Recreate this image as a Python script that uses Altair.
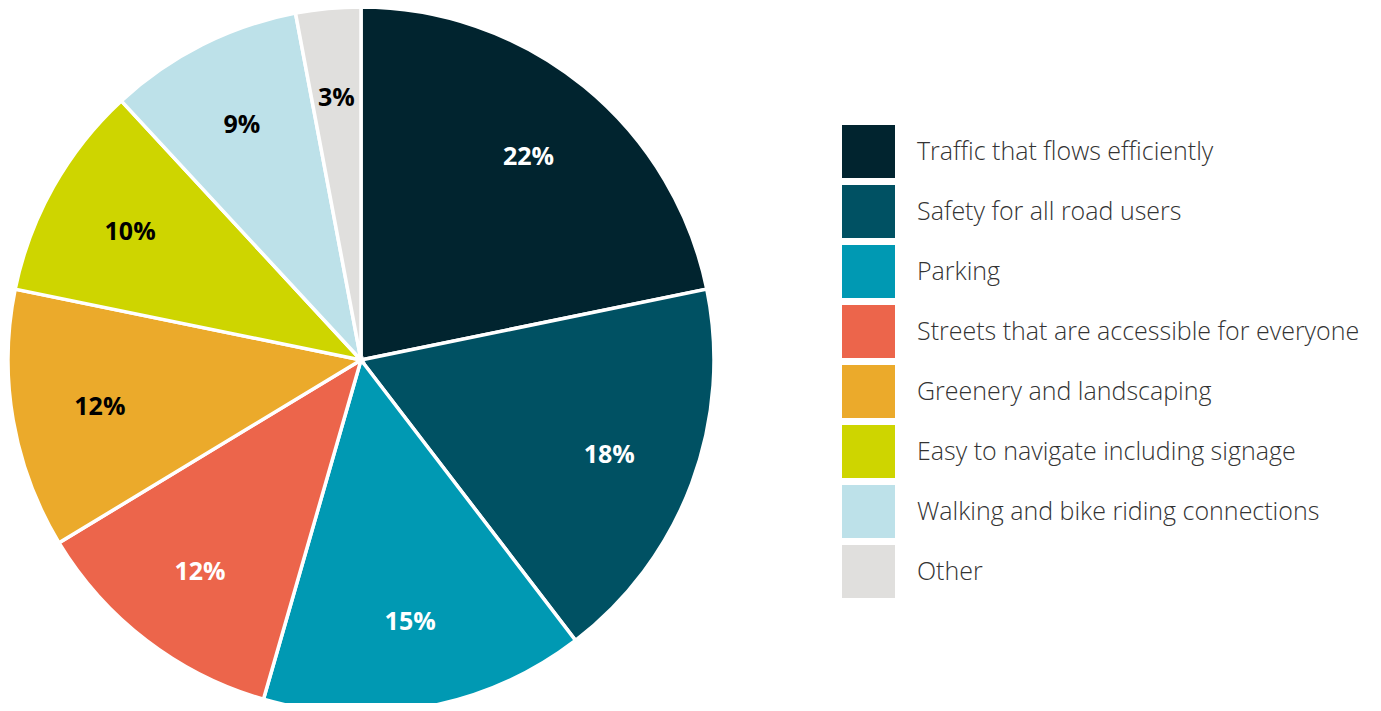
import altair as alt
import pandas as pd

categories = [
    "Traffic that flows efficiently",
    "Safety for all road users",
    "Parking",
    "Streets that are accessible for everyone",
    "Greenery and landscaping",
    "Easy to navigate including signage",
    "Walking and bike riding connections",
    "Other",
]
values = [22, 18, 15, 12, 12, 10, 9, 3]
colors = ["#01242F", "#005163", "#0099B3", "#EC654B", "#EBAA2B", "#CED500", "#BDE1E9", "#E0DFDD"]
label_colors = ["white", "white", "white", "white", "black", "black", "black", "black"]

df = pd.DataFrame({
    "category": categories,
    "value": values,
    "order": list(range(len(categories))),
    "label": [f"{v}%" for v in values],
    "tcolor": label_colors,
})

cx, cy, R = 353, 352, 353

base = alt.Chart(df).encode(
    theta=alt.Theta("value:Q", stack=True),
    order=alt.Order("order:Q"),
    x=alt.value(cx),
    y=alt.value(cy),
)

arcs = base.mark_arc(outerRadius=R, stroke="white", strokeWidth=3.5).encode(
    color=alt.Color(
        "category:N",
        sort=categories,
        scale=alt.Scale(domain=categories, range=colors),
        legend=alt.Legend(
            title=None,
            orient="none",
            legendX=834,
            legendY=117,
            symbolType="square",
            symbolSize=53 * 53,
            symbolStrokeWidth=0,
            symbolOpacity=1,
            rowPadding=7,
            labelFontSize=25,
            labelOffset=22,
            labelFont="Open Sans",
            labelFontWeight=300,
            labelColor="#333333",
            labelLimit=0,
            padding=0,
        ),
    )
)

texts = base.mark_text(radius=265, fontSize=25, fontWeight="bold", font="Open Sans", dy=2).encode(
    text="label:N",
    color=alt.Color("tcolor:N", scale=None),
)

chart = alt.layer(arcs, texts).properties(
    width=1365, height=695, autosize=alt.AutoSizeParams(type="none"), padding=0
).configure_view(stroke=None)

chart.save("out.html", embed_options={"renderer": "svg", "actions": False})
